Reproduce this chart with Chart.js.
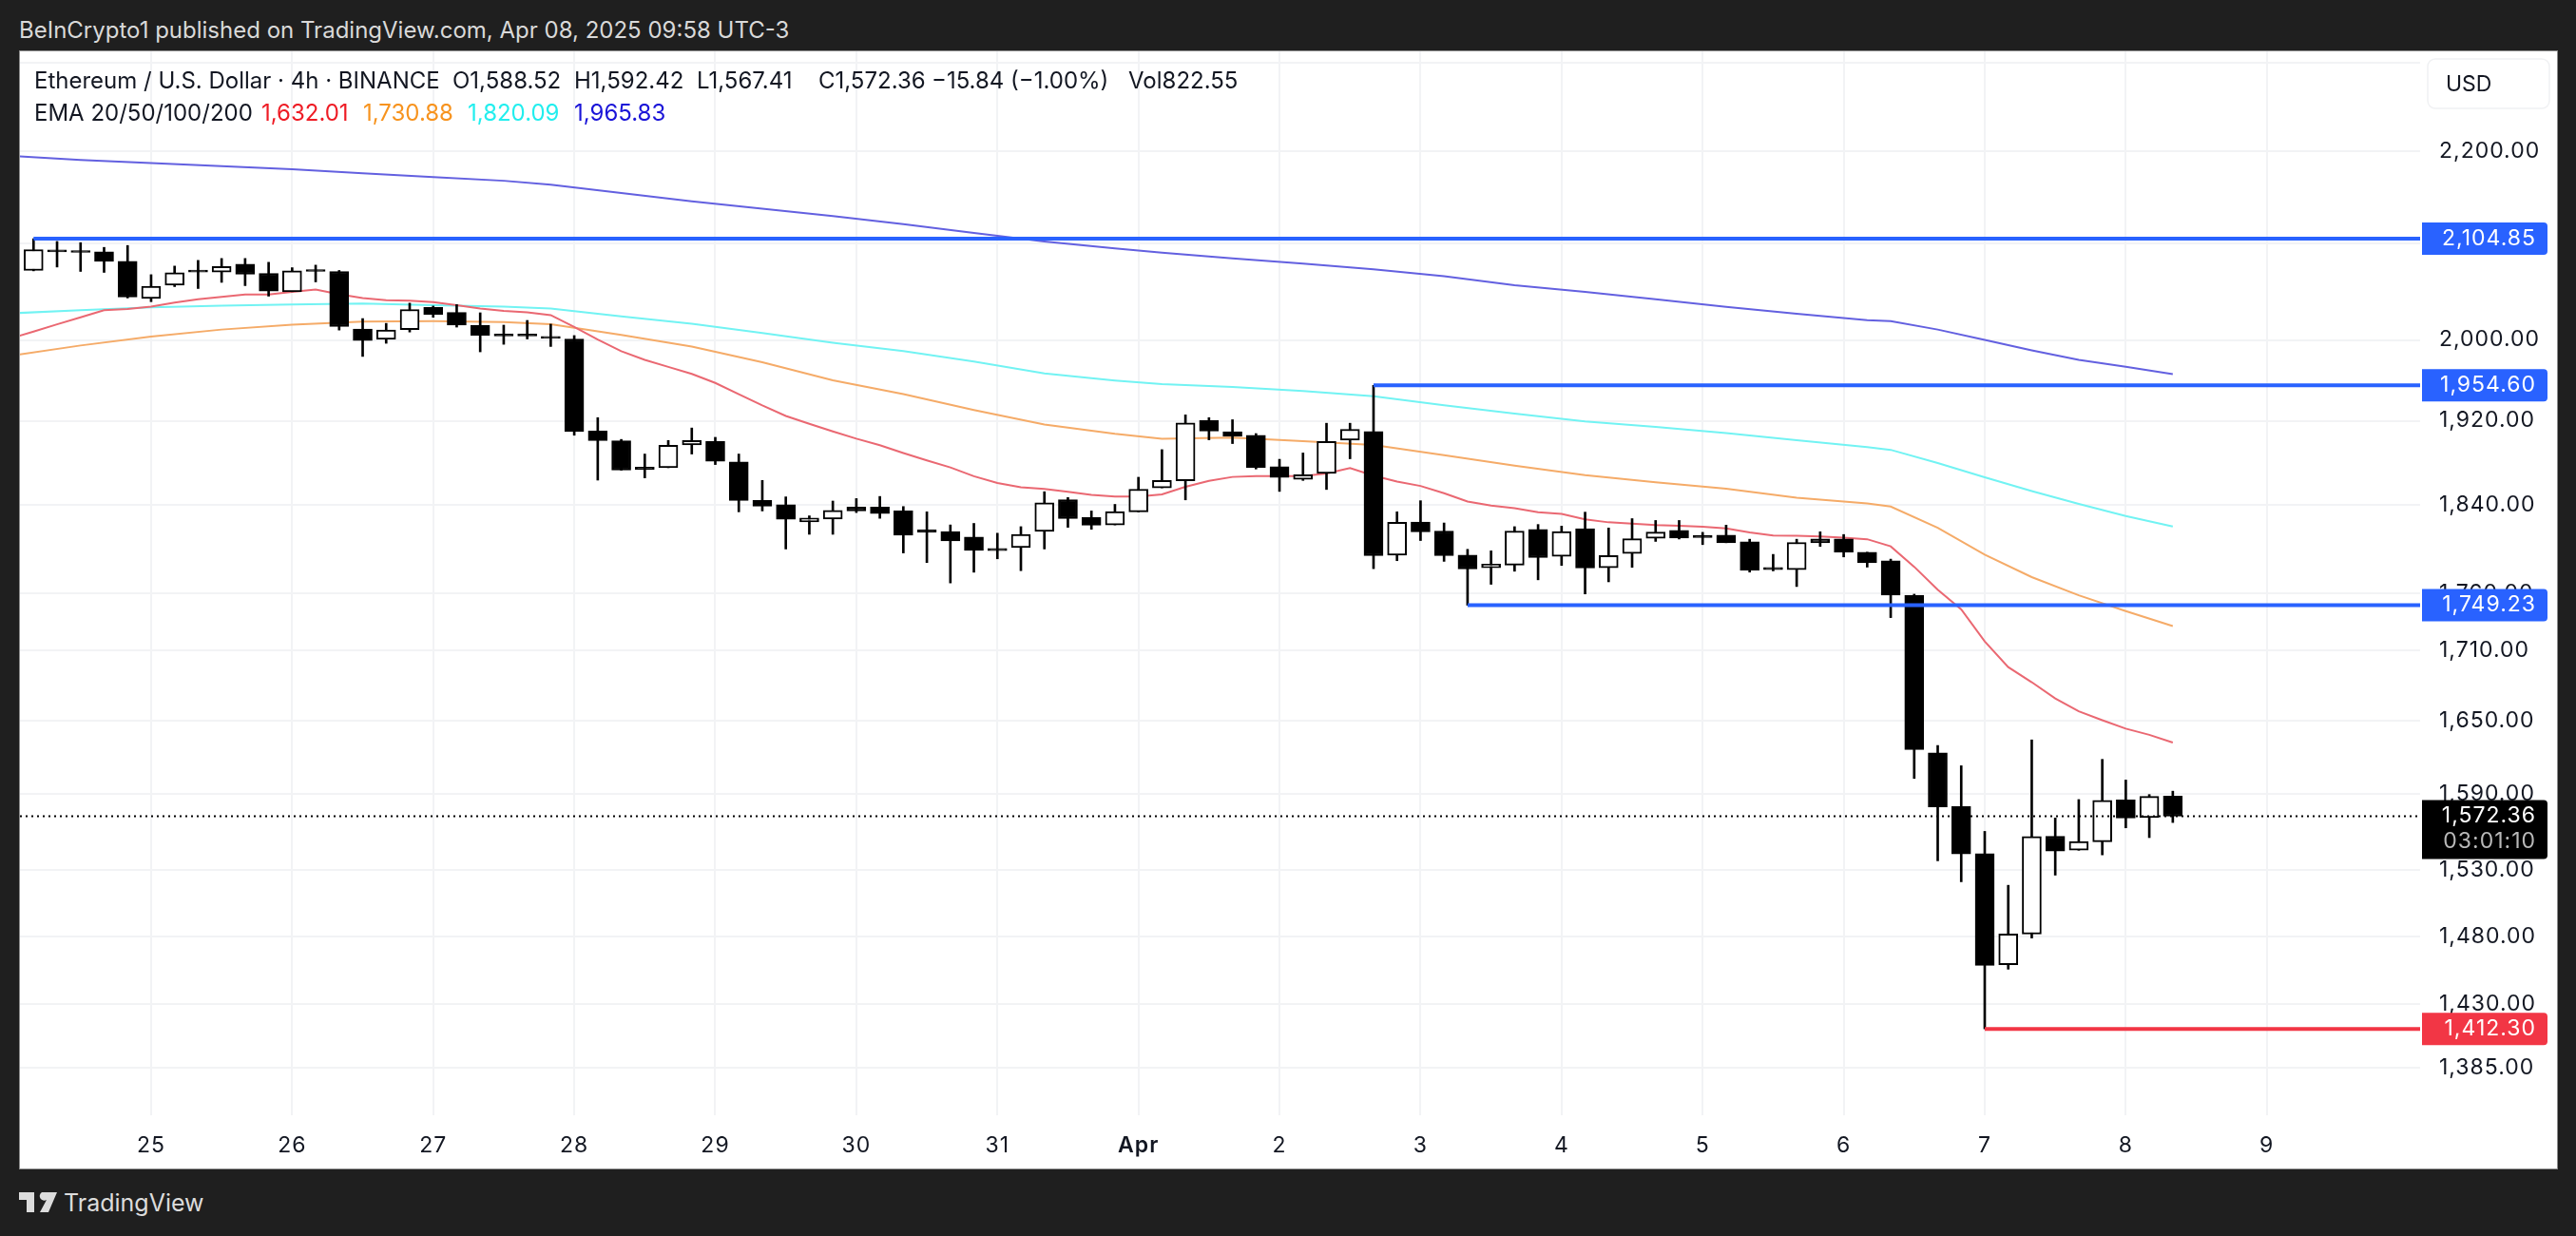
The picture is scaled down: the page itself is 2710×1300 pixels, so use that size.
<!DOCTYPE html>
<html>
<head>
<meta charset="utf-8">
<title>ETH/USD 4h</title>
<script src="https://cdn.jsdelivr.net/npm/chart.js@4"></script>
<style>
  html, body { margin: 0; padding: 0; width: 2710px; height: 1300px; overflow: hidden; background: #1f1f1f; font-family: Inter, sans-serif; }
  .txt { position: absolute; white-space: pre; line-height: 1; }
  #panel { position: absolute; left: 20px; top: 53px; width: 2669px; height: 1175px; background: #fff; border: 1px solid #8c8c8c; }
  #chart { position: absolute; left: 0; top: 0; }
  .hdr { color: #d9d9d9; font-size: 24px; }
  .leg { color: #131722; font-size: 24px; }
</style>
</head>
<body>
<div class="txt hdr" style="left:20px;top:20px">BeInCrypto1 published on TradingView.com, Apr 08, 2025 09:58 UTC-3</div>
<div id="panel"><canvas id="chart" width="2669" height="1175"></canvas></div>
<div class="txt leg" style="left:36px;top:73px">Ethereum / U.S. Dollar · 4h · BINANCE</div>
<div class="txt leg" style="left:476px;top:73px">O1,588.52</div>
<div class="txt leg" style="left:604px;top:73px">H1,592.42</div>
<div class="txt leg" style="left:733px;top:73px">L1,567.41</div>
<div class="txt leg" style="left:861px;top:73px">C1,572.36</div>
<div class="txt leg" style="left:980px;top:73px">−15.84 (−1.00%)</div>
<div class="txt leg" style="left:1187px;top:73px">Vol822.55</div>
<div class="txt leg" style="left:36px;top:107px">EMA 20/50/100/200</div>
<div class="txt leg" style="left:275px;top:107px;color:#ee1c25">1,632.01</div>
<div class="txt leg" style="left:382px;top:107px;color:#f7931e">1,730.88</div>
<div class="txt leg" style="left:492px;top:107px;color:#22eeee">1,820.09</div>
<div class="txt leg" style="left:604px;top:107px;color:#1a14d8">1,965.83</div>
<svg style="position:absolute;left:20px;top:1254px" width="40" height="21" viewBox="0 0 40 21">
  <path d="M0 0H16V21H8V8H0Z M24 0H40L31 21H22L29 8A4.5 4.5 0 1 1 24 0Z" fill="#dcdcdc"/>
</svg>
<div class="txt" style="left:67px;top:1253px;color:#dcdcdc;font-size:25px">TradingView</div>

<script>
// ── Candles (4h bars, index 0 = first bar on screen) ──
const openPrices = [
  2071.4,2093,2092.4,2091,2081,2042.4,2056,2071.7,2069.7,2078,2068.4,2049.3,2072.4,2070.4,2011,2000.7,2010.5,2033,2028,2015,
  2006,2006,2003.5,2001,1910,1900.6,1875.5,1875,1896.7,1900,1880.6,1844.3,1840.3,1824.5,1827,1838,1838,1834.6,1817,1815.6,
  1810.4,1800,1801,1815.6,1845,1828.5,1821.6,1833.7,1856,1862.6,1920.3,1909.4,1906,1876,1864,1869.6,1901.3,1909.7,1794,1824.2,
  1816,1794,1782.7,1785,1817.4,1793,1818.2,1782.7,1795.6,1809.3,1816.5,1812,1812.2,1806.2,1783,1781,1808.7,1808.7,1796.7,1789,
  1758,1623.6,1580,1543,1458.8,1481.5,1556.6,1545.6,1552.2,1585.4,1571.3,1588.52
];
const highPrices = [
  2104.85,2102,2100.7,2095.7,2097.7,2067,2076,2082,2084,2084,2080,2074.3,2077,2071.4,2021.7,2016.8,2037.5,2034.5,2036,2027.6,
  2015,2019.8,2016,2004.4,1923,1902,1888,1901,1913,1904,1888,1863,1847.6,1830,1843.7,1846,1848,1838.6,1833.7,1821.6,
  1823,1814,1820,1852.4,1847,1834.5,1840.6,1866,1892.2,1925.7,1923,1921,1907.6,1883,1889,1917.6,1917.6,1954.6,1833.7,1844,
  1823.4,1799.3,1797.9,1820,1822,1820.5,1833.4,1818.8,1827.4,1825.7,1825.7,1814.8,1821.4,1808.5,1794.7,1808.5,1815.3,1812.8,1796.7,1790.4,
  1759,1629.6,1613,1560.4,1518.5,1634.2,1571,1585.7,1618.2,1601.4,1589.7,1592.42
];
const lowPrices = [
  2071,2075,2070.4,2069.4,2042.8,2039,2054.6,2052.6,2059,2055.6,2044.7,2049.3,2059.5,2010,1983.4,1996.6,2008,2023,2013,1988,
  1995.6,2001,1993.4,1906,1863.3,1872.7,1865.4,1875,1888,1878,1833.7,1834.5,1799.6,1813,1813,1833,1827.7,1796,1787.3,1769,
  1778.6,1790.7,1780,1799.6,1819.4,1817.6,1821.6,1833.7,1856,1844.8,1901.6,1898,1873.8,1852.7,1863,1854.5,1883.5,1781.8,1789,1807.3,
  1788.4,1749.23,1767.8,1779.5,1771.8,1784.7,1759.2,1770,1783,1806.5,1808.7,1803.6,1805.3,1778.7,1779.8,1765.8,1801.9,1792.4,1783.2,1738.3,
  1602.7,1537.4,1521.2,1412.3,1455.5,1478.6,1526.3,1545.6,1542,1563.2,1555.5,1567.41
];
const closePrices = [
  2093.4,2091,2090.4,2081,2043.7,2055,2069,2069.7,2075.6,2067.4,2050,2071,2070.4,2013.5,1999.4,2010,2031,2026,2015,2004.6,
  2004,2004,2001.5,1909.6,1900.9,1872.7,1873.5,1896.4,1901,1881,1844.3,1839,1826.8,1828,1835,1834.6,1832,1812.2,1815,1807,
  1798.4,1798,1812.8,1842,1827.4,1821.4,1834,1854.8,1863,1918,1910,1905,1875.3,1865.7,1868.4,1900,1911.8,1793.5,1824,1815.3,
  1793.6,1781.5,1786,1816,1791.8,1815.6,1782.4,1793.6,1809,1815,1809.6,1810,1805.3,1780.4,1781,1805.6,1805.3,1796.7,1787.2,1758.2,
  1626.2,1579.8,1542.8,1458.3,1481.7,1556.3,1545,1552.5,1585,1571,1588.2,1572.36
];

// ── EMA lines ─────────────────────────────────────────
// EMA 20 is read bar by bar, index -1 .. 91 (index -1 runs off the left edge)
const ema20Prices = [
  2001.3,2008.5,2015.8,2023,2030.3,2031.6,2034,2038,2041.4,2044,2046.4,2046.4,2049,2051.6,2046.7,2042.8,2040.5,2040,2038.5,2035.5,2032,
  2029.5,2028,2025.2,2013.2,2000.3,1988.7,1980,1973,1966,1957,1946,1935,1924.7,1917,1909.7,1902.7,1896.4,1889,1882,1875.3,
  1867,1860.6,1856.6,1855,1852.4,1849.4,1848,1848,1850,1857,1862.6,1866.3,1867,1867,1867,1869.6,1874.7,1867.5,1862,1857.8,
  1851,1843.3,1839.4,1837,1833.4,1831.7,1826.8,1824,1822.8,1821.4,1820.8,1820,1818.5,1814.8,1811.9,1811.6,1811,1810,1808.5,1802,
  1783.5,1763,1745.5,1717.5,1695.4,1682.5,1668.7,1658,1650.5,1643.5,1638.4,1632.01
];
// the slower EMAs are read every few bars
const emaBars = [-1,2,5,8,11,14,17,20,22,25,28,31,34,37,40,43,46,48,51,54,57,60,63,66,69,72,75,78,79,81,83,85,87,89,91];
const ema50Prices = [
  1984,1994.4,2003.3,2010.5,2015.5,2018.7,2019,2018,2016,2005,1993.4,1977.6,1959.7,1946,1930.4,1916.4,1907.3,1902.5,
  1903.7,1900.4,1896.7,1887,1877,1867.9,1861.2,1855.2,1846.7,1841.5,1838.6,1819,1794.4,1774.2,1758,1744,1730.88
];
const ema100Prices = [
  2027,2030.3,2033.2,2034.9,2036.2,2037.2,2035.5,2033.9,2032,2024,2016.4,2007,1997.2,1988.7,1978.3,1966.4,1959.5,1955.8,
  1953,1949,1943.9,1935,1927,1919.4,1914,1908,1901.2,1894.6,1892,1879.5,1866,1853,1841,1829.8,1820.09
];
const ema200Prices = [
  2195,2190.4,2187,2183.5,2180,2175.5,2171.5,2167.4,2163,2154,2145,2137,2129,2120.5,2111,2102,2094.7,2090,
  2084,2078.5,2072.5,2065.5,2056,2049,2041.5,2033.7,2026.5,2020,2019,2010.5,2000,1989.5,1980,1973,1965.83
];

// ── Horizontal levels (start bar, price) ──────────────
const levelBars   = [0, 57, 61, 83];
const levelPrices = [2104.85, 1954.60, 1749.23, 1412.30];
const levelColors = ['#2962ff', '#2962ff', '#2962ff', '#f23645'];
const lastPrice   = 1572.36;
const countdown   = '03:01:10';

// ── Axes ──────────────────────────────────────────────
const priceTicks = [2300,2200,2100,2000,1920,1840,1760,1710,1650,1590,1530,1480,1430,1385];
const dayBars    = [5,11,17,23,29,35,41,47,53,59,65,71,77,83,89,95];
const dayLabels  = ['25','26','27','28','29','30','31','Apr','2','3','4','5','6','7','8','9'];
const X_MIN = -0.578, X_MAX = 101.52;
const Y_MIN = 1352, Y_MAX = 2313.8;

const FONT = 'Inter, sans-serif';
const GRID = '#f2f3f5';

const bars = closePrices.map((_, i) => i);

function linePoints(idx, vals) { return vals.map((v, i) => ({ x: idx[i], y: v })); }
function emaLine(data, color) {
  return { type: 'line', data, borderColor: color, borderWidth: 2, pointRadius: 0, order: 5 };
}

const datasets = [
  emaLine(linePoints(ema20Prices.map((_, i) => i - 1), ema20Prices), '#ea6872'),
  emaLine(linePoints(emaBars, ema50Prices), '#f5ab68'),
  emaLine(linePoints(emaBars, ema100Prices), '#72f3f3'),
  emaLine(linePoints(emaBars, ema200Prices), '#6360e0'),
  {
    data: bars.map(i => ({ x: i, y: [lowPrices[i], highPrices[i]] })),
    backgroundColor: '#000', barThickness: 2, grouped: false, order: 4,
  },
  {
    data: bars.map(i => ({ x: i, y: [openPrices[i], closePrices[i]] })),
    backgroundColor: ctx => closePrices[ctx.dataIndex] >= openPrices[ctx.dataIndex] ? '#fff' : '#000',
    borderColor: '#000', borderWidth: 2, borderSkipped: false, barThickness: 20, grouped: false, order: 3,
  },
];
levelPrices.forEach((p, i) => {
  datasets.push({
    type: 'line', borderColor: levelColors[i], borderWidth: 4, pointRadius: 0, order: 2,
    data: [{ x: levelBars[i], y: p }, { x: X_MAX, y: p }],
  });
});
datasets.push({
  type: 'line', borderColor: '#000', borderWidth: 2, borderDash: [2, 4], pointRadius: 0, order: 1,
  data: [{ x: X_MIN, y: lastPrice }, { x: X_MAX, y: lastPrice }],
});

// ── Price tags & USD button on the right axis ─────────
function priceTag(ctx, yTop, h, color) {
  ctx.fillStyle = color;
  ctx.beginPath();
  ctx.roundRect(2527, yTop, 132, h, [0, 4, 4, 0]);
  ctx.fill();
}

const axisTags = {
  id: 'axisTags',
  beforeDraw(chart) { chart.ctx.letterSpacing = '1px'; },
  afterDraw(chart) {
    const ctx = chart.ctx, yScale = chart.scales.y;
    ctx.save();
    ctx.textAlign = 'right';
    ctx.textBaseline = 'middle';
    ctx.font = '23px ' + FONT;
    levelPrices.forEach((p, i) => {
      const y = yScale.getPixelForValue(p);
      priceTag(ctx, y - 17, 34, levelColors[i]);
      ctx.fillStyle = '#fff';
      ctx.fillText(p.toLocaleString('en-US', { minimumFractionDigits: 2 }), 2647, y);
    });
    const yLast = yScale.getPixelForValue(lastPrice);
    priceTag(ctx, yLast - 17, 62, '#000');
    ctx.fillStyle = '#fff';
    ctx.fillText(lastPrice.toLocaleString('en-US', { minimumFractionDigits: 2 }), 2647, yLast);
    ctx.fillStyle = '#b8b8b8';
    ctx.fillText(countdown, 2647, yLast + 27);

    // currency button
    ctx.letterSpacing = '0px';
    ctx.fillStyle = '#fff';
    ctx.strokeStyle = '#f0f1f3';
    ctx.lineWidth = 1.5;
    ctx.beginPath();
    ctx.roundRect(2533, 8, 128, 52, 8);
    ctx.fill();
    ctx.stroke();
    ctx.fillStyle = '#131722';
    ctx.textAlign = 'left';
    ctx.fillText('USD', 2552, 35);
    ctx.restore();
  },
};

// ── Chart ─────────────────────────────────────────────
new Chart(document.getElementById('chart'), {
  type: 'bar',
  data: { datasets },
  plugins: [axisTags],
  options: {
    responsive: false,
    animation: false,
    devicePixelRatio: 1,
    layout: { padding: 0, autoPadding: false },
    plugins: { legend: { display: false }, tooltip: { enabled: false } },
    scales: {
      x: {
        type: 'linear', min: X_MIN, max: X_MAX, offset: false,
        grid: { color: GRID, lineWidth: 2, offset: false, drawTicks: false },
        border: { display: false },
        afterFit(scale) { scale.height = 56; },
        afterBuildTicks(scale) { scale.ticks = dayBars.map(v => ({ value: v })); },
        ticks: {
          autoSkip: false, maxRotation: 0, padding: 18, color: '#131722',
          font: ctx => ({ family: FONT, size: 23, weight: ctx.tick && ctx.tick.value === 47 ? '600' : '400' }),
          callback: v => dayLabels[dayBars.indexOf(v)],
        },
      },
      y: {
        type: 'logarithmic', position: 'right', min: Y_MIN, max: Y_MAX, beginAtZero: false, bounds: 'data',
        grid: { color: GRID, lineWidth: 2, drawTicks: false },
        border: { display: false },
        afterFit(scale) { scale.width = 144; scale.paddingTop = 0; scale.paddingBottom = 0; },
        afterBuildTicks(scale) { scale.ticks = priceTicks.map(v => ({ value: v })); },
        ticks: {
          autoSkip: false, padding: 20, crossAlign: 'near', color: '#131722',
          font: { family: FONT, size: 23 },
          callback: v => v === 2300 ? '' : v.toLocaleString('en-US', { minimumFractionDigits: 2 }),
        },
      },
    },
  },
});
</script>
</body>
</html>
